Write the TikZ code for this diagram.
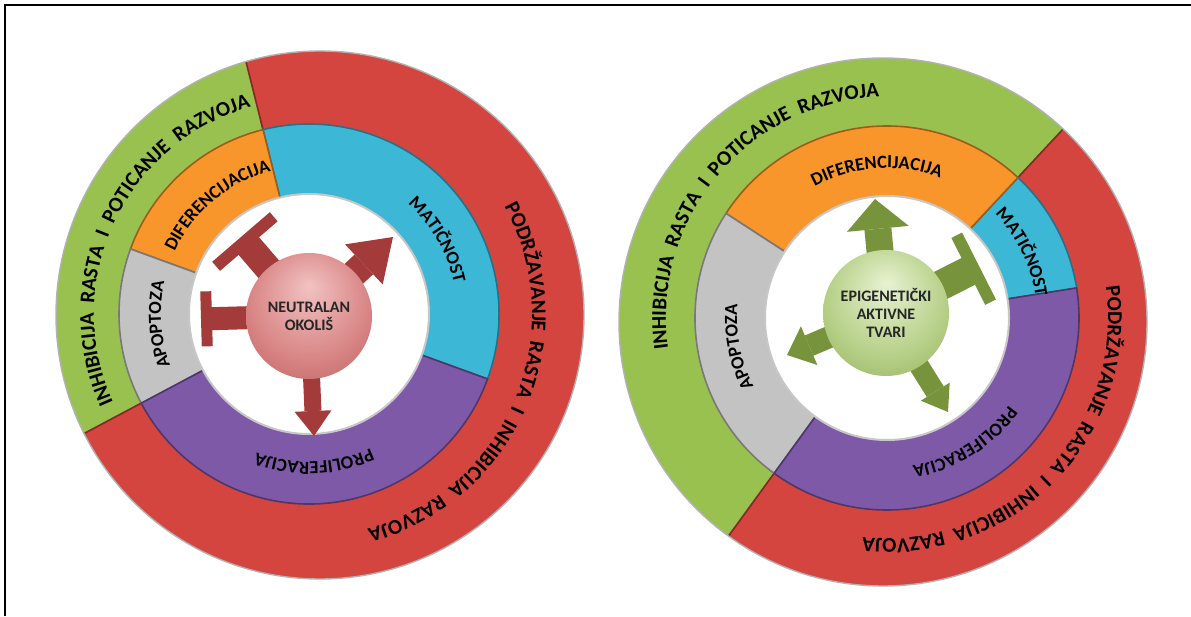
\documentclass[tikz,border=0pt]{standalone}
\usepackage{fontspec}
\setmainfont{Carlito}
\usetikzlibrary{arrows.meta,decorations.text}
\definecolor{ringgreen}{HTML}{98C150}
\definecolor{ringred}{HTML}{D5453F}
\definecolor{ringcyan}{HTML}{3DB7D6}
\definecolor{ringorange}{HTML}{F8962C}
\definecolor{ringgrey}{HTML}{C3C3C3}
\definecolor{ringpurple}{HTML}{7E59A8}
\definecolor{arrowred}{HTML}{A33B3B}
\definecolor{arrowgreen}{HTML}{77933C}
\definecolor{pinkhi}{HTML}{F2C2C2}
\definecolor{pinkmid}{HTML}{D88484}
\definecolor{pinklo}{HTML}{A64444}
\definecolor{olivehi}{HTML}{E8F2D2}
\definecolor{olivemid}{HTML}{B5CF86}
\definecolor{olivelo}{HTML}{7A9942}
\pgfdeclareradialshading{pinkball}{\pgfpoint{0bp}{12bp}}{color(0bp)=(pinkhi); color(24bp)=(pinkmid); color(50bp)=(pinklo)}
\pgfdeclareradialshading{oliveball}{\pgfpoint{0bp}{12bp}}{color(0bp)=(olivehi); color(24bp)=(olivemid); color(50bp)=(olivelo)}
\pgfdeclarelayer{front}
\pgfsetlayers{main,front}
\newcommand{\outerfnt}{\fontsize{21}{25}\selectfont\bfseries}
\newcommand{\innerfnt}{\fontsize{18.5}{21}\selectfont\bfseries}
\tikzset{
  arctext/.style={decorate, decoration={text along path, text align=center, text={#1}}},
  seg/.style={fill=#1, draw=#1!62!black, line width=1.6pt},
  hole/.style={fill=white, draw=black!22, line width=2pt},
  rim/.style={draw=black!30, line width=1.4pt},
  ball/.style={circle, shade, shading=#1, minimum size=126pt, inner sep=0pt, align=center,
    font=\fontsize{16}{18}\selectfont\bfseries, text=black!85},
  pusharrow/.style={draw=#1},
}

\begin{document}
\begin{tikzpicture}[x=1pt,y=1pt]
  \useasboundingbox (0,0) rectangle (1191,616);
  \draw[line width=2pt] (5,0) -- (5,611) -- (1191,611);

  % left wheel
  \coordinate (lc) at (309,302);
  \coordinate (lo) at (320,301);
  \begin{scope}
    \clip (lo) circle (264);
    \fill[seg=ringgreen] (lc) -- ([shift={(104:400)}]lc) arc[start angle=104, end angle=208, radius=400] -- cycle;
    \fill[seg=ringred] (lc) -- ([shift={(208:400)}]lc) arc[start angle=208, end angle=464, radius=400] -- cycle;
  \end{scope}
  \draw[rim] (lo) circle (264);
  \foreach \a/\b/\c in {-20/104/ringcyan, 104/160/ringorange, 160/208/ringgrey, 208/340/ringpurple}
    \filldraw[seg=\c] (lc) -- ([shift={(\a:190)}]lc) arc[start angle=\a, end angle=\b, radius=190] -- cycle;
  \filldraw[hole] (lc) circle (120);
  \path[arctext={|\outerfnt|INHIBICIJA~~RASTA~~I~~POTICANJE~~RAZVOJA}]
    ([shift={(245:215)}]lc) arc[start angle=245, end angle=65, radius=215];
  \path[arctext={|\outerfnt|PODRŽAVANJE~~RASTA~~I~~INHIBICIJA~~RAZVOJA}]
    ([shift={(67:223)}]lc) arc[start angle=67, end angle=-113, radius=223];
  \path[arctext={|\innerfnt|DIFERENCIJACIJA}] ([shift={(175:148)}]lc) arc[start angle=175, end angle=85, radius=148];
  \path[arctext={|\innerfnt|MATIČNOST}] ([shift={(75:148)}]lc) arc[start angle=75, end angle=-15, radius=148];
  \path[arctext={|\innerfnt|APOPTOZA}] ([shift={(229:148)}]lc) arc[start angle=229, end angle=139, radius=148];
  \path[arctext={|\innerfnt|PROLIFERACIJA}] ([shift={(-43:148)}]lc) arc[start angle=-43, end angle=-133, radius=148];

  \begin{pgfonlayer}{front}
    \node[ball=pinkball] (lsph) at (309,300) {NEUTRALAN\\OKOLIŠ};
  \end{pgfonlayer}
  \coordinate (ldif) at (241,379);
  \coordinate (lmat) at (393,379);
  \coordinate (lapo) at (201,297);
  \coordinate (lpro) at (314,180);
  \draw[pusharrow=arrowred, line width=27pt, -{Bar[width=76pt, line width=12pt]}] (lsph.center) -- (ldif);
  \draw[pusharrow=arrowred, line width=27pt, -{Triangle[length=40pt, width=55pt, line width=0pt]}] (lsph.center) -- (lmat);
  \draw[pusharrow=arrowred, line width=23pt, -{Bar[width=55pt, line width=11pt]}] (lsph.center) -- (lapo);
  \draw[pusharrow=arrowred, line width=17pt, -{Triangle[length=25pt, width=37pt, line width=0pt]}] (lsph.center) -- (lpro);

  % right wheel
  \coordinate (rc) at (887,298);
  \coordinate (ro) at (883,294);
  \begin{scope}
    \clip (ro) circle (264);
    \fill[seg=ringgreen] (rc) -- ([shift={(47:400)}]rc) arc[start angle=47, end angle=234, radius=400] -- cycle;
    \fill[seg=ringred] (rc) -- ([shift={(234:400)}]rc) arc[start angle=234, end angle=407, radius=400] -- cycle;
  \end{scope}
  \draw[rim] (ro) circle (264);
  \foreach \a/\b/\c in {9/47/ringcyan, 47/147/ringorange, 147/234/ringgrey, 234/369/ringpurple}
    \filldraw[seg=\c] (rc) -- ([shift={(\a:192)}]rc) arc[start angle=\a, end angle=\b, radius=192] -- cycle;
  \filldraw[hole] (rc) circle (122);
  \path[arctext={|\outerfnt|INHIBICIJA~~RASTA~~I~~POTICANJE~~RAZVOJA}]
    ([shift={(230:221)}]rc) arc[start angle=230, end angle=50, radius=221];
  \path[arctext={|\outerfnt|PODRŽAVANJE~~RASTA~~I~~INHIBICIJA~~RAZVOJA}]
    ([shift={(46:221)}]rc) arc[start angle=46, end angle=-134, radius=221];
  \path[arctext={|\innerfnt|DIFERENCIJACIJA}] ([shift={(139:150)}]rc) arc[start angle=139, end angle=49, radius=150];
  \path[arctext={|\innerfnt|MATIČNOST}] ([shift={(71:150)}]rc) arc[start angle=71, end angle=-19, radius=150];
  \path[arctext={|\innerfnt|APOPTOZA}] ([shift={(236:150)}]rc) arc[start angle=236, end angle=146, radius=150];
  \path[arctext={|\innerfnt|PROLIFERACIJA}] ([shift={(-13:150)}]rc) arc[start angle=-13, end angle=-103, radius=150];

  \begin{pgfonlayer}{front}
    \node[ball=oliveball] (rsph) at (886,303) {EPIGENETIČKI\\AKTIVNE\\TVARI};
  \end{pgfonlayer}
  \coordinate (rdif) at (875,417);
  \coordinate (rmat) at (979,350);
  \coordinate (rapo) at (787,261);
  \coordinate (rpro) at (948,204);
  \draw[pusharrow=arrowgreen, line width=27pt, -{Triangle[length=30pt, width=62pt, line width=0pt]}] (rsph.center) -- (rdif);
  \draw[pusharrow=arrowgreen, line width=30pt, -{Bar[width=75pt, line width=12pt]}] (rsph.center) -- (rmat);
  \draw[pusharrow=arrowgreen, line width=22pt, -{Triangle[length=24pt, width=42pt, line width=0pt]}] (rsph.center) -- (rapo);
  \draw[pusharrow=arrowgreen, line width=20pt, -{Triangle[length=24pt, width=34pt, line width=0pt]}] (rsph.center) -- (rpro);
\end{tikzpicture}
\end{document}
